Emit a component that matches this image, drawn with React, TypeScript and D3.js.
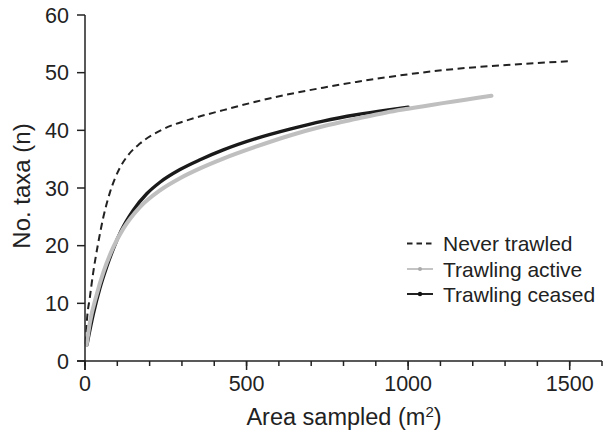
import React from "react";
import * as d3 from "d3";

// Rarefaction curves: number of taxa against area sampled
const neverArea = [2, 6, 15, 24, 41, 57, 77, 108, 135, 170, 242, 325, 428, 531, 634, 737, 840, 933, 1119, 1325, 1500];
const neverTaxa = [3, 7, 11, 14.8, 20.5, 25, 29.2, 33.5, 35.8, 37.7, 40.2, 41.9, 43.5, 45.0, 46.3, 47.4, 48.4, 49.2, 50.5, 51.4, 52];

const activeArea = [5, 15, 36, 57, 88, 119, 170, 232, 294, 356, 428, 531, 634, 737, 840, 933, 1000, 1258];
const activeTaxa = [2.8, 6.6, 11.5, 15.4, 19.8, 23.0, 26.7, 29.6, 31.7, 33.4, 35.1, 37.2, 39.1, 40.7, 42.0, 43.1, 43.75, 46];

const ceasedArea = [6, 26, 46, 67, 88, 113, 149, 191, 232, 294, 356, 428, 531, 634, 737, 840, 933, 1000];
const ceasedTaxa = [2.8, 8.2, 12.6, 16.3, 19.5, 22.7, 26.1, 29.0, 31.0, 33.2, 34.9, 36.6, 38.6, 40.2, 41.6, 42.7, 43.5, 44.0];

const xMajorTicks = [0, 500, 1000, 1500];
const xMinorTicks = d3.range(0, 1601, 100);
const yTicks = [0, 10, 20, 30, 40, 50, 60];

const legendLabels = ["Never trawled", "Trawling active", "Trawling ceased"];

const W = 604;
const H = 432;
const FONT = "'Liberation Sans', Arial, Helvetica, sans-serif";
const INK = "#222";

export default function App() {
  const x = d3.scaleLinear().domain([0, 1600]).range([85, 602]);
  const y = d3.scaleLinear().domain([0, 60]).range([361, 15]);

  const line = d3
    .line<[number, number]>()
    .x((d) => x(d[0]))
    .y((d) => y(d[1]))
    .curve(d3.curveMonotoneX);

  const zip = (a: number[], b: number[]) => a.map((v, i) => [v, b[i]] as [number, number]);

  const legendY = [243.5, 269, 294];
  const lx0 = 407;
  const lx1 = 433;

  return (
    <svg width={W} height={H} style={{ position: "absolute", left: 0, top: 0, background: "#fff" }}>
      {/* curves */}
      <path d={line(zip(neverArea, neverTaxa)) || ""} fill="none" stroke={INK} strokeWidth={2} strokeDasharray="7,4.5" />
      <path d={line(zip(ceasedArea, ceasedTaxa)) || ""} fill="none" stroke="#1a1a1a" strokeWidth={3.4} strokeLinecap="round" />
      <path d={line(zip(activeArea, activeTaxa)) || ""} fill="none" stroke="#bfbfbf" strokeWidth={4} strokeLinecap="round" />

      {/* y axis */}
      <line x1={x(0)} x2={x(0)} y1={y(60)} y2={y(0) + 9} stroke={INK} strokeWidth={1.5} />
      {yTicks.map((t) => (
        <g key={"y" + t}>
          <line x1={x(0) - 8} x2={x(0)} y1={y(t)} y2={y(t)} stroke={INK} strokeWidth={1.5} />
          <text x={69} y={y(t)} dy="0.36em" textAnchor="end" fontFamily={FONT} fontSize={21.5} fill={INK}>
            {t}
          </text>
        </g>
      ))}

      {/* x axis */}
      <line x1={x(0) - 8} x2={x(1600)} y1={y(0)} y2={y(0)} stroke={INK} strokeWidth={1.5} />
      {xMinorTicks.map((t) => (
        <line key={"m" + t} x1={x(t)} x2={x(t)} y1={y(0)} y2={y(0) + 5} stroke={INK} strokeWidth={1.5} />
      ))}
      {xMajorTicks.map((t) => (
        <g key={"x" + t}>
          <line x1={x(t)} x2={x(t)} y1={y(0)} y2={y(0) + 9} stroke={INK} strokeWidth={1.5} />
          <text x={x(t)} y={391} textAnchor="middle" fontFamily={FONT} fontSize={21.5} fill={INK}>
            {t}
          </text>
        </g>
      ))}

      {/* axis titles */}
      <text x={344} y={425} textAnchor="middle" fontFamily={FONT} fontSize={23.5} fill={INK}>
        Area sampled (m<tspan dy={-8} fontSize={15}>2</tspan>
        <tspan dy={8}>)</tspan>
      </text>
      <text
        transform={`translate(30, 186) rotate(-90)`}
        textAnchor="middle"
        fontFamily={FONT}
        fontSize={24}
        fill={INK}
      >
        No. taxa (n)
      </text>

      {/* legend */}
      <line x1={lx0} x2={lx1} y1={legendY[0]} y2={legendY[0]} stroke={INK} strokeWidth={2} strokeDasharray="5.5,4" />
      <line x1={lx0} x2={lx1} y1={legendY[1]} y2={legendY[1]} stroke="#c4c4c4" strokeWidth={2} />
      <circle cx={(lx0 + lx1) / 2} cy={legendY[1]} r={2} fill="#aaa" />
      <line x1={lx0} x2={lx1} y1={legendY[2]} y2={legendY[2]} stroke={INK} strokeWidth={2} />
      <circle cx={(lx0 + lx1) / 2} cy={legendY[2]} r={2.2} fill="#111" />
      {legendLabels.map((l, i) => (
        <text key={l} x={443} y={legendY[i]} dy="0.36em" fontFamily={FONT} fontSize={21} fill={INK}>
          {l}
        </text>
      ))}
    </svg>
  );
}
